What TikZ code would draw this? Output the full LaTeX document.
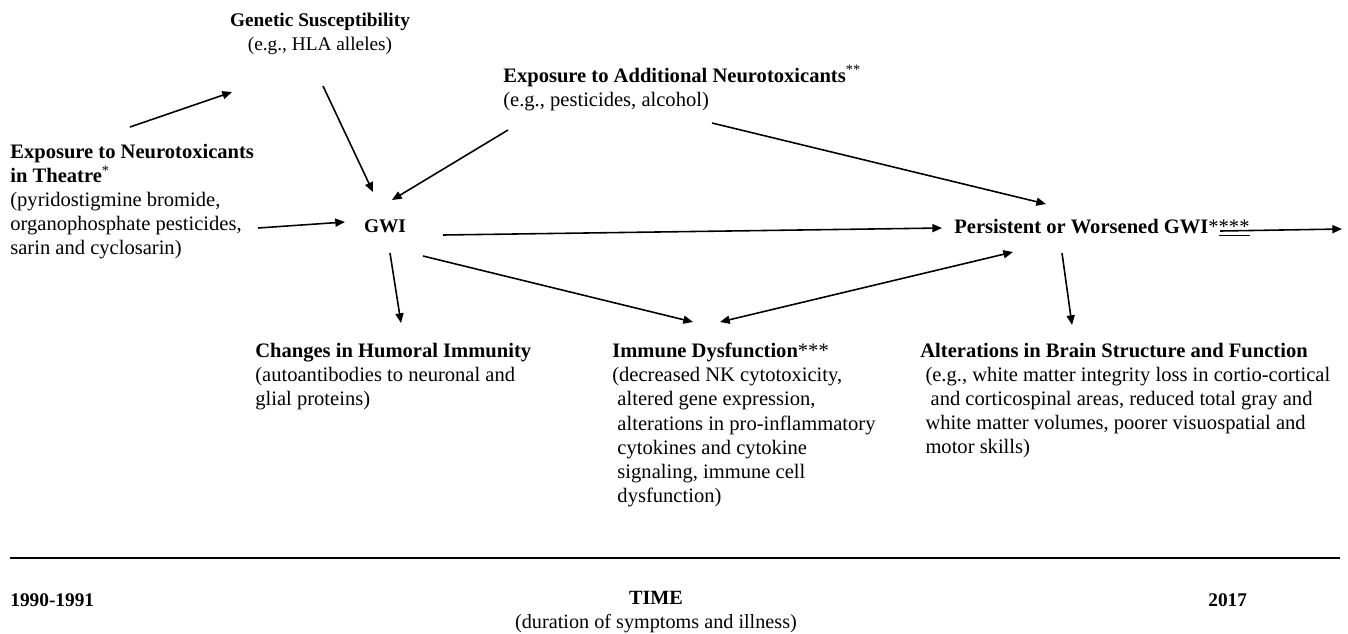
\documentclass[tikz,border=0pt]{standalone}
\usepackage{fontspec}
\setmainfont{Liberation Serif}
\usetikzlibrary{arrows.meta, positioning, calc}
\tikzstyle{textnode} = [inner sep=0pt, align=left, anchor=north west, font=\fontsize{11.7}{13.7}\selectfont]
\tikzstyle{labelnode} = [inner sep=0pt, font=\fontsize{11}{13.7}\selectfont]
\tikzstyle{arrow} = [line width=0.9pt, -{Triangle[length=5.5pt,width=4.6pt]}]
\tikzstyle{dblarrow} = [line width=0.9pt, {Triangle[length=5.5pt,width=4.6pt]}-{Triangle[length=5.5pt,width=4.6pt]}]

\begin{document}
\begin{tikzpicture}[x=0.02cm, y=-0.02cm]
                \useasboundingbox (0,0) rectangle (1348,633);
                \node[labelnode, anchor=north, align=center] (genetic) at (320,13) {\textbf{Genetic Susceptibility}\\(e.g., HLA alleles)};
                \node[textnode] (additional) at (503,65) {\textbf{Exposure to Additional Neurotoxicants}\textsuperscript{**}\\(e.g., pesticides, alcohol)};
                \node[textnode] (theatre) at (10,144) {\textbf{Exposure to Neurotoxicants}\\\textbf{in Theatre}\textsuperscript{*}\\(pyridostigmine bromide,\\organophosphate pesticides,\\sarin and cyclosarin)};
                \node[labelnode] (gwi) at (385,226) {\textbf{GWI}};
                \node[textnode, anchor=west] (persist) at (954,228) {\textbf{Persistent or Worsened GWI}*\underline{***}};
                \node[textnode] (humoral) at (255,343) {\textbf{Changes in Humoral Immunity}\\(autoantibodies to neuronal and\\glial proteins)};
                \node[textnode] (immune) at (612,343) {\textbf{Immune Dysfunction}***\\(decreased NK cytotoxicity,\\\hspace*{0.25em}altered gene expression,\\\hspace*{0.25em}alterations in pro-inflammatory\\\hspace*{0.25em}cytokines and cytokine\\\hspace*{0.25em}signaling, immune cell\\\hspace*{0.25em}dysfunction)};
                \node[textnode] (brain) at (920,343) {\textbf{Alterations in Brain Structure and Function}\\\hspace*{0.25em}(e.g., white matter integrity loss in cortio-cortical\\\hspace*{0.5em}and corticospinal areas, reduced total gray and\\\hspace*{0.25em}white matter volumes, poorer visuospatial and\\\hspace*{0.25em}motor skills)};
                \coordinate (out) at (1342,229);

                \draw[arrow] ($(theatre.north west)+(120,-17)$) -- ($(genetic.north)+(-88,79)$);
                \draw[arrow] ($(genetic.north)+(3,73)$) -- ($(gwi.center)+(-12,-34)$);
                \draw[arrow] ($(additional.north west)+(5,65)$) -- ($(gwi.center)+(7,-26)$);
                \draw[arrow] ($(theatre.north west)+(248,84)$) -- ($(gwi.center)+(-40,-4)$);
                \draw[arrow] ($(gwi.center)+(58,9)$) -- ($(persist.west)+(-12,0)$);
                \draw[arrow] ($(additional.north west)+(209,58)$) -- ($(persist.west)+(92,-24)$);
                \draw[arrow] ($(gwi.center)+(5,27)$) -- ($(humoral.north west)+(146,-20)$);
                \draw[arrow] ($(gwi.center)+(38,30)$) -- ($(immune.north west)+(81,-21)$);
                \draw[dblarrow] ($(immune.north west)+(108,-21)$) -- ($(persist.west)+(59,24)$);
                \draw[arrow] ($(persist.west)+(108,25)$) -- ($(brain.north west)+(152,-18)$);
                \draw[arrow] ($(persist.west)+(266,3)$) -- (out);

                \draw[line width=1pt] (10,558) -- (1340,558);
                \node[labelnode, anchor=west] (start) at (10,600) {\textbf{1990-1991}};
                \node[labelnode, anchor=north, align=center, font=\fontsize{11.5}{13.7}\selectfont] (time) at (656,591) {\textbf{TIME}\\(duration of symptoms and illness)};
                \node[labelnode, anchor=west] (finish) at (1208,600) {\textbf{2017}};
            \end{tikzpicture}
\end{document}
